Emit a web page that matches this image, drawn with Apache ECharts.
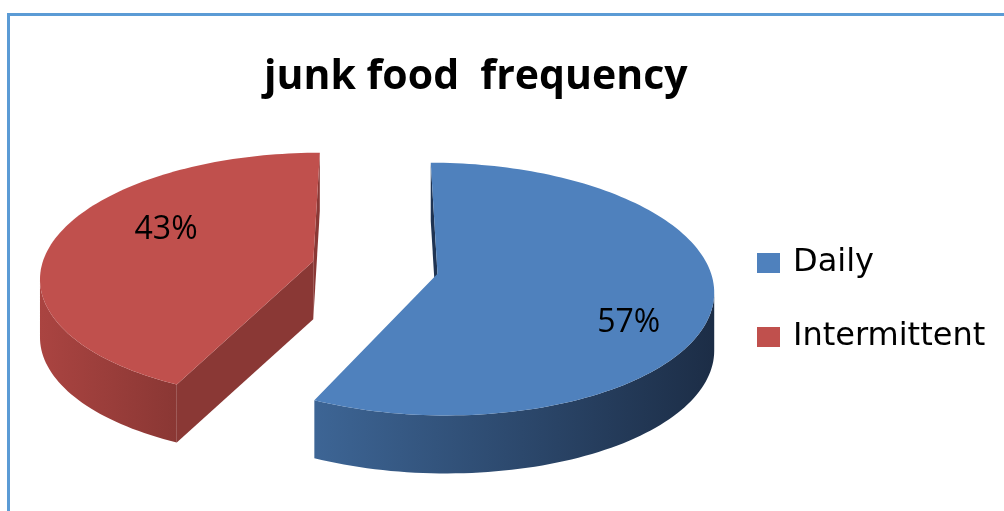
<!DOCTYPE html>
<html>
<head>
<meta charset="utf-8">
<title>junk food frequency</title>
<script src="https://cdn.jsdelivr.net/npm/echarts@6/dist/echarts.min.js"></script>
<style>
  html, body { margin: 0; padding: 0; background: #fff; }
  #chart { width: 1004px; height: 511px; }
</style>
</head>
<body>
<div id="chart"></div>
<script>
// data
const categories = ['Daily', 'Intermittent'];
const shares = [57, 43];

const topColors = ['#4F81BD', '#C0504D'];
const wallColors = [['#3D6595', '#1C2D46'], ['#AA4441', '#8A3734']];
const cutColors = ['#1F3453', '#8A3835'];

// fake 3d pie geometry (pixels)
const CX = 375, CY = 267.5;
const R = 272, RY = 123;
const K = 0.12;        // perspective
const H = 58;          // thickness
const EXPLODE = 0.234; // in radius units
const LABEL_R = 0.7, LABEL_DX = 12, LABEL_DY = 7;

function project(X, V) {
    const s = 1 / (1 - K * V);
    return [CX + R * X * s, CY + RY * V * s];
}

function sliceAngles(idx) {
    const total = shares.reduce((a, b) => a + b, 0);
    let start = 0;
    for (let i = 0; i < idx; i++) start += shares[i] / total * 360;
    return [start, start + shares[idx] / total * 360];
}

function down(p) {
    return [p[0], p[1] + H];
}

function renderSlice(params, api) {
    const idx = params.seriesIndex;
    const [start, end] = sliceAngles(idx);
    const rad = Math.PI / 180;
    const mid = (start + end) / 2 * rad;
    const ox = EXPLODE * Math.sin(mid), ov = -EXPLODE * Math.cos(mid);

    const top = [];
    const steps = Math.ceil((end - start) / 1.5);
    for (let i = 0; i <= steps; i++) {
        const a = (start + (end - start) * i / steps) * rad;
        top.push(project(ox + Math.sin(a), ov - Math.cos(a)));
    }
    const c = project(ox, ov);
    const children = [];

    // radial cut faces, shown only when they face the viewer
    [[c, top[0]], [top[top.length - 1], c]].forEach(([a, b]) => {
        if (b[0] < a[0]) {
            children.push({
                type: 'polygon',
                shape: { points: [a, b, down(b), down(a)] },
                style: { fill: cutColors[idx] }
            });
        }
    });

    // outer wall, front part only
    let run = [];
    const flush = () => {
        if (run.length > 1) {
            const xs = run.map(p => p[0]);
            const x0 = Math.min(...xs), x1 = Math.max(...xs);
            children.push({
                type: 'polygon',
                shape: { points: run.concat(run.slice().reverse().map(down)) },
                style: {
                    fill: {
                        type: 'linear', global: true,
                        x: x0, y: 0, x2: x1, y2: 0,
                        colorStops: [
                            { offset: 0, color: wallColors[idx][0] },
                            { offset: 1, color: wallColors[idx][1] }
                        ]
                    }
                }
            });
        }
        run = [];
    };
    for (let i = 0; i < top.length - 1; i++) {
        if (top[i + 1][0] < top[i][0]) {
            if (!run.length) run.push(top[i]);
            run.push(top[i + 1]);
        } else {
            flush();
        }
    }
    flush();

    // top face
    children.push({
        type: 'polygon',
        shape: { points: [c].concat(top) },
        style: { fill: topColors[idx] }
    });

    // percent label
    const la = mid + 15 * rad;
    const lp = project(ox + LABEL_R * Math.sin(la), ov - LABEL_R * Math.cos(la));
    children.push({
        type: 'text',
        x: lp[0] + LABEL_DX, y: lp[1] + LABEL_DY,
        style: {
            text: api.value(0) + '%',
            fontFamily: 'Open Sans',
            fontSize: 32,
            fill: '#000',
            align: 'center',
            verticalAlign: 'middle'
        }
    });

    return { type: 'group', children: children };
}

const myChart = echarts.init(document.getElementById('chart'));

const series = categories.map((name, i) => ({
    type: 'custom',
    name: name,
    coordinateSystem: 'none',
    renderItem: renderSlice,
    itemStyle: { color: topColors[i] },
    data: [[shares[i]]],
    silent: true,
    animation: false
}));

const option = {
    backgroundColor: '#fff',
    animation: false,
    title: {
        text: 'junk food  frequency',
        left: 264,
        top: 57,
        padding: 0,
        textStyle: {
            fontFamily: 'Open Sans',
            fontWeight: 'bold',
            fontSize: 41,
            color: '#000'
        }
    },
    legend: {
        orient: 'vertical',
        left: 757,
        top: 245,
        padding: 0,
        itemWidth: 23,
        itemHeight: 20,
        itemGap: 38,
        icon: 'rect',
        data: categories,
        textStyle: {
            fontFamily: 'DejaVu Sans',
            fontSize: 32,
            lineHeight: 36,
            color: '#000',
            padding: [0, 0, 0, 8]
        }
    },
    graphic: [{
        type: 'rect',
        shape: { x: 8.5, y: 14.5, width: 1100, height: 600 },
        style: { fill: 'none', stroke: '#5B9BD5', lineWidth: 3 },
        silent: true
    }],
    series: series
};

myChart.setOption(option);
</script>
</body>
</html>
